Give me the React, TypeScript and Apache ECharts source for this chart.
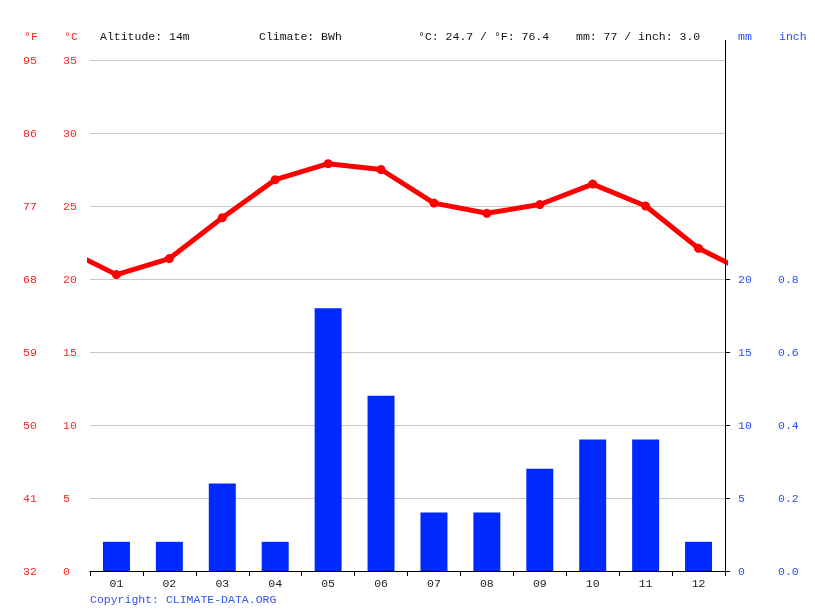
import React, { useEffect, useRef } from "react";
import * as echarts from "echarts";

const months = ["01", "02", "03", "04", "05", "06", "07", "08", "09", "10", "11", "12"];
const tempC = [20.3, 21.4, 24.2, 26.8, 27.9, 27.5, 25.2, 24.5, 25.1, 26.5, 25.0, 22.1];
const precipMm = [2, 2, 6, 2, 18, 12, 4, 4, 7, 9, 9, 2];
const headerTexts = [
  { text: "Altitude: 14m", x: 100 },
  { text: "Climate: BWh", x: 259 },
  { text: "°C: 24.7 / °F: 76.4", x: 418 },
  { text: "mm: 77 / inch: 3.0", x: 576 },
];

const MONO = "'Liberation Mono', 'DejaVu Sans Mono', monospace";
const RED = "#ff2020";
const BLUE = "#2a4dff";

export default function App() {
  const ref = useRef<HTMLDivElement>(null);
  useEffect(() => {
    if (!ref.current) return;
    const chart = echarts.init(ref.current, null, { renderer: "svg" });
    const lineData: number[][] = [
      [-0.5, tempC[11]],
      ...tempC.map((v, i) => [i + 0.5, v]),
      [12.5, tempC[0]],
    ];
    chart.setOption({
      animation: false,
      textStyle: { fontFamily: MONO },
      grid: [
        { left: 90, right: 90, top: 60, bottom: 40 },
        { left: 90, right: 90, top: 279, bottom: 40 },
      ],
      xAxis: [
        {
          type: "category",
          gridIndex: 0,
          data: months,
          axisLine: { lineStyle: { color: "#000", width: 1 } },
          axisTick: { show: true, length: 5, lineStyle: { color: "#000" } },
          axisLabel: { color: "#222", fontSize: 11.5, margin: 6, fontFamily: MONO },
          splitLine: { show: false },
        },
        { type: "value", gridIndex: 0, min: 0, max: 12, show: false },
        { type: "category", gridIndex: 1, data: months, show: false },
      ],
      yAxis: [
        {
          type: "value",
          gridIndex: 0,
          min: 0,
          max: 35,
          interval: 5,
          position: "left",
          axisLine: { show: false },
          axisTick: { show: false },
          axisLabel: { color: RED, fontSize: 11.5, align: "left", margin: 27, fontFamily: MONO },
          splitLine: { lineStyle: { color: "#c8c8c8", width: 1 } },
        },
        {
          type: "value",
          gridIndex: 0,
          min: 0,
          max: 35,
          interval: 5,
          position: "left",
          axisLine: { show: false },
          axisTick: { show: false },
          splitLine: { show: false },
          axisLabel: {
            color: RED,
            fontSize: 11.5,
            align: "left",
            margin: 67,
            fontFamily: MONO,
            formatter: (v: number) => String(Math.round(v * 1.8 + 32)),
          },
        },
        {
          type: "value",
          gridIndex: 1,
          min: 0,
          max: 20,
          interval: 5,
          position: "right",
          axisLine: { show: true, lineStyle: { color: "#000" } },
          axisTick: { show: true, length: 5, lineStyle: { color: "#000" } },
          splitLine: { show: false },
          axisLabel: { color: BLUE, fontSize: 11.5, align: "left", margin: 13, fontFamily: MONO },
        },
        {
          type: "value",
          gridIndex: 1,
          min: 0,
          max: 0.8,
          interval: 0.2,
          position: "right",
          axisLine: { show: false },
          axisTick: { show: false },
          splitLine: { show: false },
          axisLabel: {
            color: BLUE,
            fontSize: 11.5,
            align: "left",
            margin: 53,
            fontFamily: MONO,
            formatter: (v: number) => v.toFixed(1),
          },
        },
      ],
      series: [
        {
          type: "bar",
          xAxisIndex: 2,
          yAxisIndex: 2,
          data: precipMm,
          barWidth: "51%",
          itemStyle: { color: "#0029ff" },
        },
        {
          type: "line",
          xAxisIndex: 1,
          yAxisIndex: 0,
          data: lineData,
          clip: true,
          symbol: "circle",
          symbolSize: 9,
          lineStyle: { color: "#ff0000", width: 5 },
          itemStyle: { color: "#ff0000" },
          z: 5,
        },
      ],
      graphic: [
        {
          type: "line",
          shape: { x1: 725.5, y1: 40, x2: 725.5, y2: 280 },
          style: { stroke: "#000", lineWidth: 1 },
          z: 10,
        },
        { type: "text", x: 24, y: 36, style: { text: "°F", fill: RED, font: `11.5px ${MONO}`, verticalAlign: "middle" } },
        { type: "text", x: 64, y: 36, style: { text: "°C", fill: RED, font: `11.5px ${MONO}`, verticalAlign: "middle" } },
        ...headerTexts.map((h) => ({
          type: "text",
          x: h.x,
          y: 36,
          style: { text: h.text, fill: "#111", font: `11.5px ${MONO}`, verticalAlign: "middle" },
        })),
        { type: "text", x: 738, y: 36, style: { text: "mm", fill: BLUE, font: `11.5px ${MONO}`, verticalAlign: "middle" } },
        { type: "text", x: 779, y: 36, style: { text: "inch", fill: BLUE, font: `11.5px ${MONO}`, verticalAlign: "middle" } },
        {
          type: "text",
          x: 90,
          y: 599,
          style: { text: "Copyright: CLIMATE-DATA.ORG", fill: "#3355ee", font: `11.5px ${MONO}`, verticalAlign: "middle" },
        },
      ],
    });
    return () => chart.dispose();
  }, []);
  return <div ref={ref} style={{ position: "fixed", left: 0, top: 0, width: 815, height: 611 }} />;
}
